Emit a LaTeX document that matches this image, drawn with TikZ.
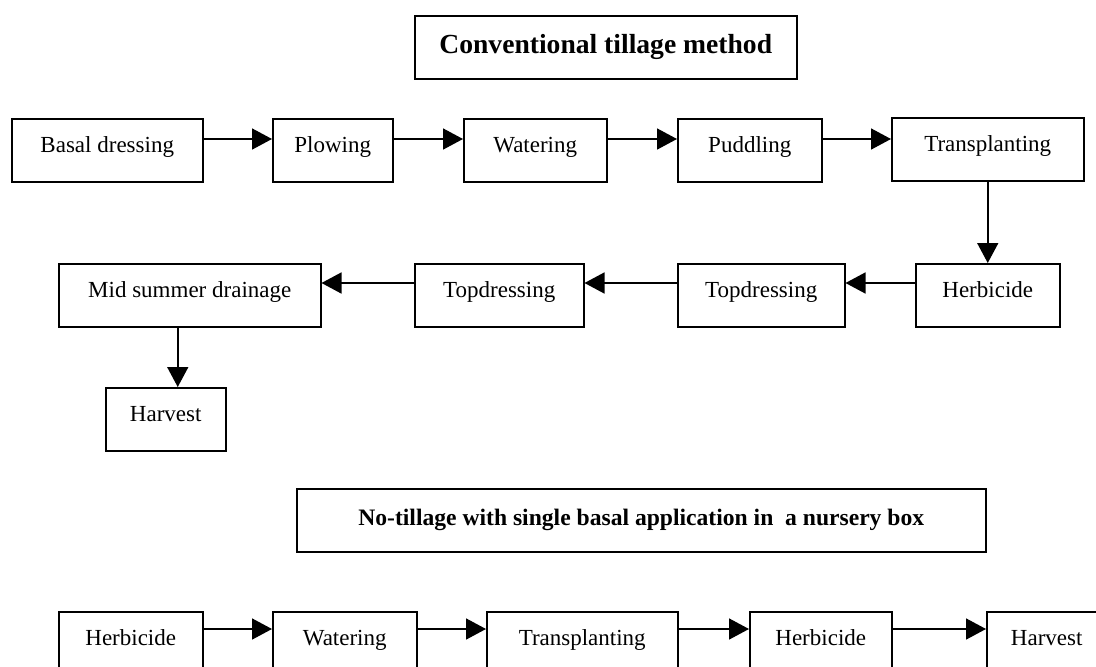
\documentclass[tikz,border=0pt]{standalone}
\usepackage{fontspec}
\setmainfont{Liberation Serif}
\usetikzlibrary{arrows.meta}
\begin{document}
\begin{tikzpicture}[x=1pt,y=-1pt,
  box/.style={draw, line width=1.5pt, inner xsep=0pt, inner ysep=0pt,
    text height=34pt, text depth=29pt, anchor=north west,
    font=\fontsize{23}{27}\selectfont},
  titleA/.style={box, text height=38pt, text depth=25pt,
    font=\bfseries\fontsize{27.6}{32}\selectfont},
  titleB/.style={box, text height=37pt, text depth=26pt,
    font=\bfseries\fontsize{23.6}{28}\selectfont},
  arr/.style={line width=1.6pt, -{Triangle[length=20pt,width=21pt]}}]
\useasboundingbox (0,0) rectangle (1096,667);
\fill[white] (0,0) rectangle (1096,667);
\begin{scope}
\clip (0,0) rectangle (1096,667);
% titles
\node[titleA, minimum width=382pt] (t1) at (414,15) {Conventional tillage method};
\node[titleB, minimum width=689pt] (t2) at (296,488) {No-tillage with single basal application in~ a nursery box};
% row 1
\node[box, minimum width=191pt] (r1a) at (11,118) {Basal dressing};
\node[box, minimum width=120pt] (r1b) at (272,118) {Plowing};
\node[box, minimum width=143pt] (r1c) at (463,118) {Watering};
\node[box, minimum width=144pt] (r1d) at (677,118) {Puddling};
\node[box, minimum width=192pt] (r1e) at (891,117) {Transplanting};
% row 2
\node[box, minimum width=144pt] (r2a) at (915,263) {Herbicide};
\node[box, minimum width=167pt] (r2b) at (677,263) {Topdressing};
\node[box, minimum width=169pt] (r2c) at (414,263) {Topdressing};
\node[box, minimum width=262pt] (r2d) at (58,263) {Mid summer drainage};
\node[box, minimum width=120pt] (r2e) at (105,387) {Harvest};
% row 3
\node[box, minimum width=144pt] (r3a) at (58,611) {Herbicide};
\node[box, minimum width=144pt] (r3b) at (272,611) {Watering};
\node[box, minimum width=191pt] (r3c) at (486,611) {Transplanting};
\node[box, minimum width=142pt] (r3d) at (749,611) {Herbicide};
\node[box, minimum width=120pt] (r3e) at (986,611) {Harvest};
% arrows row 1
\foreach \a/\b in {r1a/r1b, r1b/r1c, r1c/r1d}
  \draw[arr] ([yshift=-21pt]\a.north east) -- ([yshift=-21pt]\b.north west);
\draw[arr] ([yshift=-21pt]r1d.north east) -- ([yshift=-22pt]r1e.north west);
\draw[arr] (r1e.south) -- (r2a.north);
% arrows row 2
\foreach \a/\b in {r2a/r2b, r2b/r2c, r2c/r2d}
  \draw[arr] ([yshift=-20pt]\a.north west) -- ([yshift=-20pt]\b.north east);
\draw[arr] ([xshift=-12pt]r2d.south) -- ([xshift=12pt]r2e.north);
% arrows row 3
\foreach \a/\b in {r3a/r3b, r3b/r3c, r3c/r3d, r3d/r3e}
  \draw[arr] ([yshift=-18pt]\a.north east) -- ([yshift=-18pt]\b.north west);
\end{scope}
\end{tikzpicture}
\end{document}
